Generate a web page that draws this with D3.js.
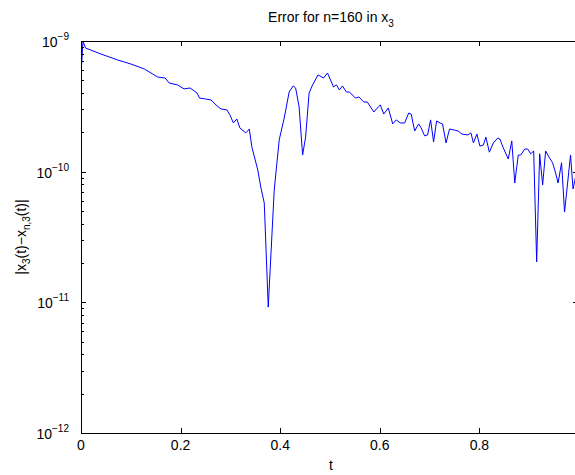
<!DOCTYPE html>
<html>
<head>
<meta charset="utf-8">
<script src="https://cdn.jsdelivr.net/npm/d3@7"></script>
<style>
  body { margin: 0; background: #fff; }
  text { font-family: "Liberation Sans", Arial, Helvetica, sans-serif; fill: #000; }
</style>
</head>
<body>
<svg id="chart" width="575" height="475"></svg>
<script>
// values
const tValues = [0, 0.004, 0.009, 0.04, 0.074, 0.10, 0.127, 0.154, 0.169, 0.177, 0.194, 0.207, 0.219, 0.233,
  0.238, 0.25, 0.261, 0.271, 0.281, 0.293, 0.299, 0.306, 0.313, 0.319, 0.331, 0.338, 0.343, 0.355, 0.361,
  0.368, 0.376, 0.388, 0.398, 0.408, 0.418, 0.426, 0.431, 0.438, 0.445, 0.451, 0.458, 0.465, 0.476, 0.487,
  0.495, 0.507, 0.513, 0.519, 0.525, 0.533, 0.539, 0.551, 0.558, 0.568, 0.575, 0.588, 0.597, 0.601, 0.608,
  0.617, 0.626, 0.633, 0.641, 0.65, 0.658, 0.663, 0.67, 0.678, 0.683, 0.69, 0.696, 0.702, 0.708, 0.714,
  0.721, 0.726, 0.733, 0.74, 0.75, 0.757, 0.765, 0.777, 0.783, 0.788, 0.795, 0.801, 0.808, 0.813, 0.82,
  0.828, 0.837, 0.841, 0.848, 0.858, 0.865, 0.871, 0.878, 0.883, 0.891, 0.897, 0.903, 0.909, 0.915, 0.921,
  0.927, 0.933, 0.941, 0.947, 0.953, 0.958, 0.965, 0.971, 0.983, 0.988, 1.0];

const errValues = [5.5e-10, 1.0e-9, 8.84e-10, 7.95e-10, 7.15e-10, 6.67e-10, 6.11e-10, 5.30e-10, 5.21e-10, 4.77e-10,
  4.61e-10, 4.30e-10, 4.37e-10, 4.00e-10, 3.66e-10, 3.60e-10, 3.54e-10, 3.24e-10, 3.02e-10, 2.97e-10, 2.72e-10,
  2.36e-10, 2.53e-10, 2.16e-10, 1.98e-10, 2.12e-10, 1.55e-10, 1.03e-10, 7.64e-11, 5.76e-11, 9.2e-12, 7.24e-11,
  1.75e-10, 2.57e-10, 4.07e-10, 4.53e-10, 4.37e-10, 3.13e-10, 1.34e-10, 1.84e-10, 4.00e-10, 4.61e-10, 5.50e-10,
  5.21e-10, 5.69e-10, 4.45e-10, 4.61e-10, 4.22e-10, 4.53e-10, 4.07e-10, 4.07e-10, 3.66e-10, 3.73e-10, 3.41e-10,
  3.41e-10, 2.86e-10, 3.13e-10, 3.24e-10, 2.76e-10, 3.07e-10, 2.32e-10, 2.49e-10, 2.36e-10, 2.36e-10, 2.81e-10,
  2.76e-10, 2.05e-10, 2.32e-10, 2.16e-10, 1.88e-10, 1.91e-10, 2.49e-10, 1.69e-10, 2.44e-10, 2.36e-10, 2.32e-10,
  1.66e-10, 2.12e-10, 2.08e-10, 2.05e-10, 1.94e-10, 1.91e-10, 1.98e-10, 1.66e-10, 1.94e-10, 1.57e-10, 1.60e-10,
  1.84e-10, 1.41e-10, 1.66e-10, 1.81e-10, 1.78e-10, 1.52e-10, 1.25e-10, 1.72e-10, 8.19e-11, 1.34e-10, 1.34e-10,
  1.49e-10, 1.49e-10, 1.37e-10, 1.44e-10, 2.04e-11, 1.37e-10, 7.91e-11, 1.44e-10, 1.27e-10, 1.17e-10, 9.77e-11,
  8.19e-11, 1.17e-10, 4.91e-11, 1.34e-10, 7.37e-11, 1.2e-10];

const xTicks = [0, 0.2, 0.4, 0.6, 0.8];
const yTickExps = [-12, -11, -10, -9];

const data = tValues.map((t, i) => ({t: t, v: errValues[i]}));

const svg = d3.select("#chart");
const plotLeft = 81, plotRight = 579, plotTop = 41, plotBottom = 433;

const x = d3.scaleLinear().domain([0, 1]).range([plotLeft, plotRight]);
const y = d3.scaleLog().domain([1e-12, 1e-9]).range([plotBottom, plotTop]);

// minor log ticks
const minor = [];
yTickExps.slice(0, 3).forEach(e => {
  for (let k = 2; k <= 9; k++) minor.push(k * Math.pow(10, e));
});

// clip for line
svg.append("defs").append("clipPath").attr("id", "clip")
  .append("rect").attr("x", plotLeft).attr("y", plotTop)
  .attr("width", plotRight - plotLeft).attr("height", plotBottom - plotTop);

const line = d3.line().x(d => x(d.t)).y(d => y(d.v));
svg.append("path")
  .datum(data)
  .attr("clip-path", "url(#clip)")
  .attr("fill", "none")
  .attr("stroke", "#0000ff")
  .attr("stroke-width", 1)
  .attr("stroke-linejoin", "round")
  .attr("d", line);

// box
svg.append("rect")
  .attr("x", plotLeft + 0.5).attr("y", plotTop + 0.5)
  .attr("width", plotRight - plotLeft).attr("height", plotBottom - plotTop)
  .attr("fill", "none").attr("stroke", "#000").attr("stroke-width", 1);

const ticks = svg.append("g").attr("stroke", "#000").attr("stroke-width", 1);
xTicks.forEach(t => {
  const px = Math.round(x(t)) + 0.5;
  ticks.append("line").attr("x1", px).attr("x2", px).attr("y1", plotBottom).attr("y2", plotBottom - 5);
  ticks.append("line").attr("x1", px).attr("x2", px).attr("y1", plotTop).attr("y2", plotTop + 5);
});
yTickExps.forEach(e => {
  const py = Math.round(y(Math.pow(10, e))) + 0.5;
  ticks.append("line").attr("x1", plotLeft).attr("x2", plotLeft + 5).attr("y1", py).attr("y2", py);
  ticks.append("line").attr("x1", plotRight).attr("x2", plotRight - 6).attr("y1", py).attr("y2", py);
});
minor.forEach(v => {
  const py = Math.round(y(v)) + 0.5;
  ticks.append("line").attr("x1", plotLeft).attr("x2", plotLeft + 3).attr("y1", py).attr("y2", py);
  ticks.append("line").attr("x1", plotRight).attr("x2", plotRight - 3).attr("y1", py).attr("y2", py);
});

// x tick labels
svg.append("g").selectAll("text").data(xTicks).join("text")
  .attr("x", d => x(d))
  .attr("y", plotBottom + 17)
  .attr("text-anchor", "middle")
  .attr("font-size", 14)
  .text(d => d === 0 ? "0" : d3.format(".1f")(d));

// y tick labels: 10^e
const yl = svg.append("g").selectAll("text").data(yTickExps).join("text")
  .attr("x", plotLeft - 12)
  .attr("y", d => y(Math.pow(10, d)) + 6)
  .attr("text-anchor", "end")
  .attr("font-size", 14);
yl.append("tspan").text("10");
yl.append("tspan").attr("dy", -7).attr("font-size", 10).text(d => "\u2212" + Math.abs(d));

// title
const title = svg.append("text")
  .attr("x", 331).attr("y", 22)
  .attr("text-anchor", "middle")
  .attr("font-size", 14);
title.append("tspan").text("Error for n=160 in x");
title.append("tspan").attr("dy", 5).attr("font-size", 10).text("3");

// x label
svg.append("text")
  .attr("x", 331).attr("y", 470)
  .attr("text-anchor", "middle")
  .attr("font-size", 14)
  .text("t");

// y label
const ylab = svg.append("text")
  .attr("transform", "translate(26,237) rotate(-90)")
  .attr("text-anchor", "middle")
  .attr("font-size", 14);
ylab.append("tspan").text("|x");
ylab.append("tspan").attr("dy", 4).attr("font-size", 10).text("3");
ylab.append("tspan").attr("dy", -4).text("(t)\u2212x");
ylab.append("tspan").attr("dy", 4).attr("font-size", 10).text("n,3");
ylab.append("tspan").attr("dy", -4).text("(t)|");
</script>
</body>
</html>
